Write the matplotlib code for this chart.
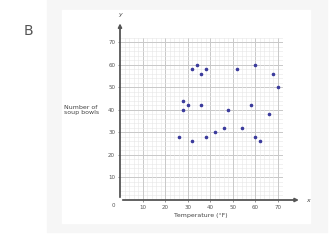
import matplotlib.pyplot as plt
from matplotlib.patches import Rectangle
import numpy as np

temps = [26, 28, 28, 30, 32, 32, 34, 36, 36, 38, 38, 42, 46, 48, 52, 54, 58, 60, 60, 62, 66, 68, 70]
bowls = [28, 44, 40, 42, 58, 26, 60, 56, 42, 58, 28, 30, 32, 40, 58, 32, 42, 60, 28, 26, 38, 56, 50]
ticks = [10, 20, 30, 40, 50, 60, 70]

W, H = 331, 240
fig = plt.figure(figsize=(W / 100, H / 100), dpi=100)
fig.patch.set_facecolor('white')

def px_rect(x0, y0, x1, y1, color):
    # pixel box (top-left origin) -> figure fractions
    fig.patches.append(Rectangle((x0 / W, 1 - y1 / H), (x1 - x0) / W, (y1 - y0) / H,
                                 transform=fig.transFigure, color=color, zorder=-10))

px_rect(47, 0, 327, 232, '#f6f6f6')
px_rect(62, 10, 310, 223, 'white')

fig.text(28 / W, 1 - 31 / H, 'B', fontsize=10, color='#555555', ha='center', va='center')

ax = fig.add_axes([120 / W, 1 - 200 / H, 162.5 / W, 162.5 / H])
ax.set_xlim(0, 72)
ax.set_ylim(0, 72)
ax.set_facecolor('none')
for s in ax.spines.values():
    s.set_visible(False)

# grid
for v in np.arange(2, 73, 2):
    major = v % 10 == 0
    c = '#c8c8c8' if major else '#e6e6e6'
    lw = 0.7 if major else 0.4
    ax.axvline(v, color=c, lw=lw, zorder=0)
    ax.axhline(v, color=c, lw=lw, zorder=0)

# axes with arrows
ax.annotate('', xy=(80.5, 0), xytext=(0, 0), annotation_clip=False,
            arrowprops=dict(arrowstyle='-|>', color='#555555', lw=1.3, mutation_scale=5))
ax.annotate('', xy=(0, 79.5), xytext=(0, 0), annotation_clip=False,
            arrowprops=dict(arrowstyle='-|>', color='#555555', lw=1.3, mutation_scale=5))
ax.text(83.5, 0, 'x', fontsize=4.5, style='italic', color='#444444', ha='center', va='center')
ax.text(0, 82, 'y', fontsize=4.5, style='italic', color='#444444', ha='center', va='center')

ax.set_xticks(ticks)
ax.set_yticks(ticks)
ax.tick_params(length=1.5, width=0.5, color='#666666', labelsize=4, labelcolor='#555555', pad=2)
ax.text(-2.8, -2.5, '0', fontsize=4, color='#555555', ha='center', va='center')

ax.scatter(temps, bowls, s=2.5, color='#3b3b9c', zorder=5)

ax.set_xlabel('Temperature (°F)', fontsize=4.5, color='#444444', labelpad=2)
fig.text(64 / W, 1 - 110 / H, 'Number of\nsoup bowls', fontsize=4.5, color='#444444',
         ha='left', va='center', linespacing=1.1)

fig.savefig('out.png', dpi=100)
